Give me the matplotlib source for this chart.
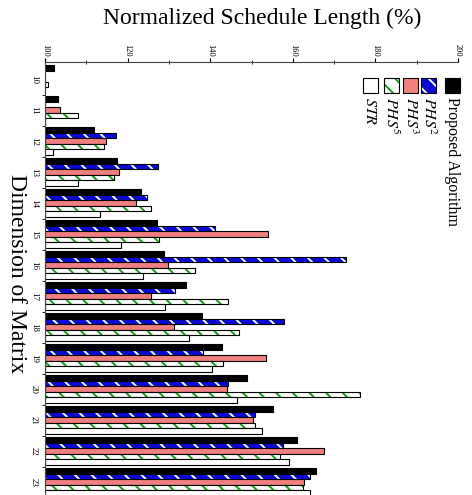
import matplotlib.pyplot as plt
import matplotlib.patches as mpatches
import numpy as np

plt.rcParams['font.family'] = ['Liberation Serif', 'DejaVu Serif']
plt.rcParams['mathtext.fontset'] = 'stix'
plt.rcParams['hatch.linewidth'] = 1.4

# data: normalized schedule length (%) per matrix dimension
dims = [10, 11, 12, 13, 14, 15, 16, 17, 18, 19, 20, 21, 22, 23]
proposed = [102.3, 103.1, 111.9, 117.4, 123.2, 127.0, 128.7, 134.2, 138.1, 142.9, 149.0, 155.1, 160.9, 165.5]
phs2 = [100.0, 100.0, 117.3, 127.4, 124.7, 141.2, 172.8, 131.5, 157.9, 138.3, 144.2, 150.8, 157.7, 164.2]
phs3 = [100.0, 103.6, 114.8, 117.8, 122.1, 154.1, 129.9, 125.7, 131.3, 153.6, 144.0, 150.4, 167.6, 162.6]
phs5 = [100.7, 107.9, 114.2, 116.8, 125.7, 127.5, 136.2, 144.2, 147.0, 143.0, 176.3, 150.8, 157.0, 162.5]
str_ = [100.0, 100.0, 102.0, 107.9, 113.4, 118.5, 123.7, 129.1, 134.9, 140.5, 146.6, 152.6, 159.0, 164.2]

series = [
    ("Proposed Algorithm", proposed, "black", None, "black"),
    ("$PHS^2$", phs2, "#0a0ad2", "\\\\", "white"),
    ("$PHS^3$", phs3, "#f08080", None, None),
    ("$PHS^5$", phs5, "white", "\\\\", "#1a9a1a"),
    ("$STR$", str_, "white", None, None),
]

fig = plt.figure(figsize=(4.72, 4.95), dpi=100)
ax = fig.add_axes([45 / 472, -5 / 495, 413 / 472, 438 / 495])

pos = np.arange(len(dims))
h = 0.18
for i, (name, vals, fc, hatch, hc) in enumerate(series):
    y = pos + (i - 2) * h
    w = np.array(vals) - 100
    if hatch:
        ax.barh(y, w, height=h, left=100, color=fc, edgecolor=hc, hatch=hatch, linewidth=0)
        ax.barh(y, w, height=h, left=100, fill=False, edgecolor="black", linewidth=0.8)
    else:
        ax.barh(y, w, height=h, left=100, color=fc, edgecolor="black", linewidth=0.8)

ax.set_xlim(100, 200)
ax.set_ylim(13.58, -0.55)
ax.xaxis.tick_top()
ax.set_xticks(np.arange(100, 201, 20))
ax.set_xticks(np.arange(110, 200, 20), minor=True)
ax.tick_params(axis='x', which='major', direction='out', length=3, labelsize=6,
               labelrotation=-90, pad=1)
ax.tick_params(axis='x', which='minor', direction='inout', length=3)
ax.set_yticks(pos)
ax.set_yticklabels([str(d) for d in dims], rotation=-90, va='center', fontsize=6.5)
ax.set_yticks(pos + 0.5, minor=True)
ax.tick_params(axis='y', which='major', length=0, pad=5)
ax.tick_params(axis='y', which='minor', direction='out', length=2)
for s in ['right', 'bottom']:
    ax.spines[s].set_visible(False)
ax.spines['top'].set_color('#444444')
ax.spines['left'].set_color('#444444')

fig.text(262 / 472, 1 - 18 / 495, "Normalized Schedule Length (%)", ha='center', va='center', fontsize=17)
fig.text(16 / 472, 1 - 274 / 495, "Dimension of Matrix", ha='center', va='center', rotation=-90, fontsize=17)

# legend drawn by hand with rotated text
leg_x = [452, 428, 410, 391, 370]
for (name, vals, fc, hatch, hc), cx in zip(series, leg_x):
    x0 = (cx - 7.5) / 472
    y0 = 1 - 93 / 495
    if hatch:
        p = mpatches.Rectangle((x0, y0), 15 / 472, 15 / 495, transform=fig.transFigure,
                               facecolor=fc, edgecolor=hc, hatch=hatch, linewidth=0)
        fig.add_artist(p)
        p = mpatches.Rectangle((x0, y0), 15 / 472, 15 / 495, transform=fig.transFigure,
                               fill=False, edgecolor="black", linewidth=0.8)
    else:
        p = mpatches.Rectangle((x0, y0), 15 / 472, 15 / 495, transform=fig.transFigure,
                               facecolor=fc, edgecolor="black", linewidth=0.8)
    fig.add_artist(p)
    fig.text(cx / 472, 1 - 97 / 495, name, ha='center', va='top', rotation=-90, fontsize=11.5)

fig.savefig("out.png", dpi=100)
